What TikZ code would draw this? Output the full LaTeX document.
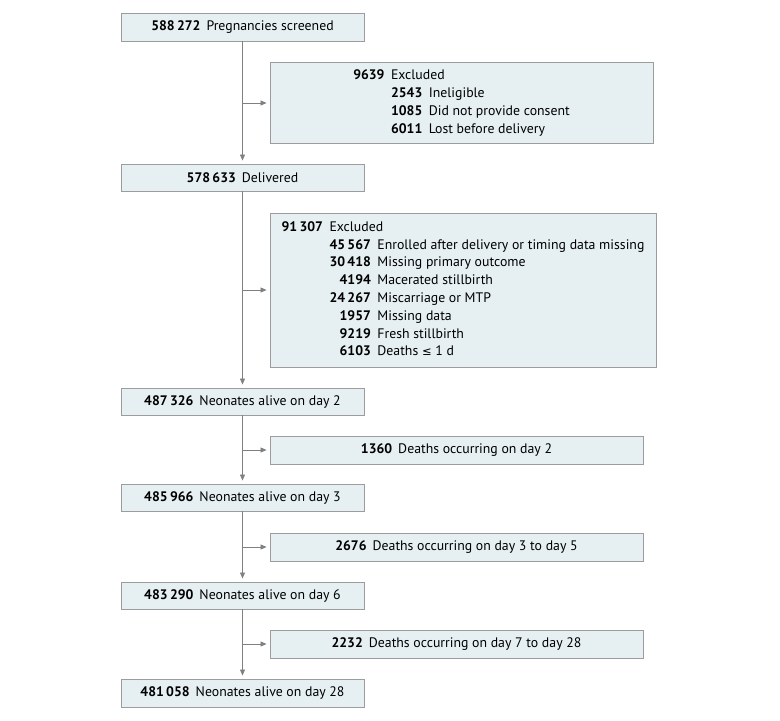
\documentclass[tikz,border=0pt]{standalone}
\usepackage{fontspec}
\setmainfont{PT Sans}
\newfontfamily\symfont{DejaVu Sans}
\usetikzlibrary{arrows.meta}
\definecolor{boxfill}{HTML}{E6F0F2}
\definecolor{boxdraw}{HTML}{9C9C9C}
\definecolor{linec}{HTML}{808080}
\newcommand{\num}[1]{\textbf{#1}}
\newcommand{\gap}{\hspace{6pt}}
\tikzset{
 mainbox/.style={draw=boxdraw, fill=boxfill, line width=0.9pt, minimum width=243pt, minimum height=28pt, inner sep=0pt, font=\fontsize{13.8}{17.8}\selectfont},
 sidebox/.style={mainbox, minimum width=373pt},
 exclbox/.style={mainbox},
 arr/.style={draw=linec, line width=0.8pt, -{Triangle[length=6pt,width=5pt]}, shorten >=3pt}
}
\begin{document}
\begin{tikzpicture}[x=1pt,y=-1pt]
\useasboundingbox[fill=white] (0,0) rectangle (780,721);
\node[mainbox] (A) at (242.5,27) {\num{588\,272}\gap Pregnancies screened};
\node[exclbox, minimum width=383pt, minimum height=81pt] (X1) at (461.5,103) {\begin{tabular}{@{}r@{\hspace{6.5pt}}r@{\hspace{6.5pt}}l@{}}
\num{9639} & \multicolumn{2}{@{}l@{}}{Excluded}\\
 & \num{2543} & Ineligible\\
 & \num{1085} & Did not provide consent\\
 & \num{6011} & Lost before delivery
\end{tabular}};
\node[mainbox, minimum height=27pt] (B) at (242.5,177.5) {\num{578\,633}\gap Delivered};
\node[exclbox, minimum width=386pt, minimum height=154pt] (X2) at (463,290) {\begin{tabular}{@{}r@{\hspace{6.5pt}}r@{\hspace{6.5pt}}l@{}}
\num{91\,307} & \multicolumn{2}{@{}l@{}}{Excluded}\\
 & \num{45\,567} & Enrolled after delivery or timing data missing\\
 & \num{30\,418} & Missing primary outcome\\
 & \num{4194} & Macerated stillbirth\\
 & \num{24\,267} & Miscarriage or MTP\\
 & \num{1957} & Missing data\\
 & \num{9219} & Fresh stillbirth\\
 & \num{6103} & Deaths {\symfont\fontsize{11.5}{13}\selectfont ≤} 1 d
\end{tabular}};
\node[mainbox, minimum height=27pt] (C) at (242.5,401.5) {\num{487\,326}\gap Neonates alive on day 2};
\node[sidebox] (D1) at (456.5,450) {\num{1360}\gap Deaths occurring on day 2};
\node[mainbox, minimum height=27pt] (D) at (242.5,497.5) {\num{485\,966}\gap Neonates alive on day 3};
\node[sidebox] (D2) at (456.5,547) {\num{2676}\gap Deaths occurring on day 3 to day 5};
\node[mainbox, minimum height=27pt] (E) at (242.5,595.5) {\num{483\,290}\gap Neonates alive on day 6};
\node[sidebox] (D3) at (456.5,644) {\num{2232}\gap Deaths occurring on day 7 to day 28};
\node[mainbox] (F) at (242.5,693) {\num{481\,058}\gap Neonates alive on day 28};
% connectors
\draw[arr] (A) -- (B);
\draw[arr] (B) -- (C);
\draw[arr] (C) -- (D);
\draw[arr] (D) -- (E);
\draw[arr] (E) -- (F);
\coordinate (j1) at (A.south |- X1.west);
\coordinate (j2) at (A.south |- X2.west);
\coordinate (j3) at (A.south |- D1.west);
\coordinate (j4) at (A.south |- D2.west);
\coordinate (j5) at (A.south |- D3.west);
\draw[arr] (j1) -- (X1);
\draw[arr] (j2) -- (X2);
\draw[arr] (j3) -- (D1);
\draw[arr] (j4) -- (D2);
\draw[arr] (j5) -- (D3);
\end{tikzpicture}
\end{document}
